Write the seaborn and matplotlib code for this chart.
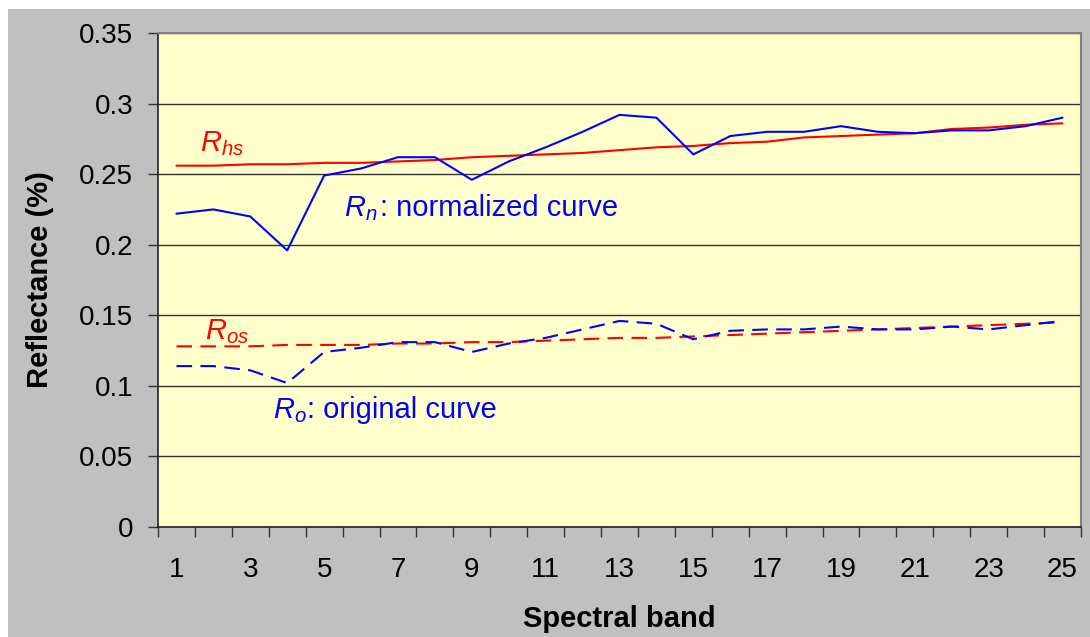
import matplotlib
matplotlib.use("Agg")
import matplotlib.pyplot as plt
from matplotlib.patches import Rectangle
from matplotlib.ticker import FixedLocator
import numpy as np
import pandas as pd
import seaborn as sns

bands = list(range(1, 26))
tick_labels = [str(b) for b in range(1, 26, 2)]
y_ticks = [0, 0.05, 0.1, 0.15, 0.2, 0.25, 0.3, 0.35]
y_tick_labels = ['0', '0.05', '0.1', '0.15', '0.2', '0.25', '0.3', '0.35']

r_hs = [0.256, 0.256, 0.257, 0.257, 0.258, 0.258, 0.259, 0.260, 0.262, 0.263,
        0.264, 0.265, 0.267, 0.269, 0.270, 0.272, 0.273, 0.276, 0.277, 0.278,
        0.279, 0.282, 0.283, 0.285, 0.286]
r_n = [0.222, 0.225, 0.220, 0.196, 0.249, 0.254, 0.262, 0.262, 0.246, 0.259,
       0.269, 0.280, 0.292, 0.290, 0.264, 0.277, 0.280, 0.280, 0.284, 0.280,
       0.279, 0.281, 0.281, 0.284, 0.290]
r_os = [0.128, 0.128, 0.128, 0.129, 0.129, 0.129, 0.130, 0.130, 0.131, 0.131,
        0.132, 0.133, 0.134, 0.134, 0.135, 0.136, 0.137, 0.138, 0.139, 0.140,
        0.141, 0.142, 0.143, 0.144, 0.145]
r_o = [0.114, 0.114, 0.111, 0.102, 0.124, 0.127, 0.131, 0.131, 0.124, 0.130,
       0.134, 0.140, 0.146, 0.144, 0.133, 0.139, 0.140, 0.140, 0.142, 0.140,
       0.140, 0.142, 0.140, 0.143, 0.146]

sns.set_theme(style="white")
plt.rcParams['font.family'] = ['Liberation Sans', 'DejaVu Sans']
plt.rcParams['mathtext.fontset'] = 'custom'
plt.rcParams['mathtext.rm'] = 'Liberation Sans'
plt.rcParams['mathtext.it'] = 'Liberation Sans:italic'
plt.rcParams['text.color'] = 'black'
plt.rcParams['axes.labelcolor'] = 'black'

fig = plt.figure(figsize=(10.9, 6.37), dpi=100)
fig.patch.set_facecolor('white')
fig.patches.append(Rectangle((8 / 1090, 0), 1 - 8 / 1090, 1 - 9 / 637,
                             transform=fig.transFigure, facecolor='#C0C0C0',
                             edgecolor='none', zorder=-10))
ax = fig.add_axes([158 / 1090, 1 - 527 / 637, (1081 - 158) / 1090, (527 - 33) / 637])
ax.set_facecolor('#FFFFCC')

df = pd.DataFrame({'band': bands, 'Rhs': r_hs, 'Rn': r_n, 'Ros': r_os, 'Ro': r_o})
lw = 1.5
sns.lineplot(data=df, x='band', y='Rhs', ax=ax, color='#FF0000', lw=lw, zorder=3)
sns.lineplot(data=df, x='band', y='Rn', ax=ax, color='#0000FF', lw=lw, zorder=4)
sns.lineplot(data=df, x='band', y='Ros', ax=ax, color='#FF0000', lw=lw, zorder=3)
ax.lines[-1].set_dashes((7.5, 4))
sns.lineplot(data=df, x='band', y='Ro', ax=ax, color='#0000FF', lw=lw, zorder=4)
ax.lines[-1].set_dashes((7.5, 4))

ax.set_xlim(0.5, 25.5)
ax.set_ylim(0, 0.35)
ax.set_yticks(y_ticks)
ax.set_yticklabels(y_tick_labels)
ax.set_xticks(list(range(1, 26, 2)))
ax.set_xticklabels(tick_labels)
ax.xaxis.set_minor_locator(FixedLocator(np.arange(0.5, 25.6, 1.0)))
ax.grid(True, axis='y', color='#333333', lw=1.0, zorder=1)
ax.grid(False, axis='x')
ax.set_axisbelow(True)

ax.tick_params(axis='x', which='major', length=0, pad=21.5, labelsize=20, labelcolor='black')
ax.tick_params(axis='x', which='minor', length=7, width=1, direction='out', color='#333333', bottom=True)
ax.tick_params(axis='y', which='major', length=7, width=1, direction='out', color='#333333',
               pad=11, labelsize=20, left=True, labelcolor='black')

for s in ['left', 'bottom']:
    ax.spines[s].set_color('#222222')
    ax.spines[s].set_linewidth(1.2)
for s in ['top', 'right']:
    ax.spines[s].set_color('#808080')
    ax.spines[s].set_linewidth(1.5)

ax.set_xlabel('Spectral band', fontsize=21, fontweight='bold', color='black')
ax.xaxis.set_label_coords(0.5, (527 - 627) / 494)
ax.xaxis.label.set_va('baseline')
ax.set_ylabel('Reflectance (%)', fontsize=21, fontweight='bold', color='black')
ax.yaxis.set_label_coords((40 - 158) / 923, 0.5)
ax.yaxis.label.set_va('center')

def bx(px):
    return (px - 158) / 36.92 + 0.5

def vy(py):
    return (527 - py) / 1411.4

fs_r = 21
fs_t = 21
ax.text(bx(200), vy(151.7), r'$R_{hs}$', color='#FF0000', fontsize=fs_r, va='baseline', ha='left')
ax.text(bx(344), vy(216), r'$R_{n}$', color='#0000FF', fontsize=fs_r, va='baseline', ha='left')
ax.text(bx(380), vy(216), ': normalized curve', color='#0000FF', fontsize=fs_t, va='baseline', ha='left')
ax.text(bx(205), vy(339.3), r'$R_{os}$', color='#FF0000', fontsize=fs_r, va='baseline', ha='left')
ax.text(bx(273), vy(418.3), r'$R_{o}$', color='#0000FF', fontsize=fs_r, va='baseline', ha='left')
ax.text(bx(307), vy(418.3), ': original curve', color='#0000FF', fontsize=fs_t, va='baseline', ha='left')

fig.savefig('out.png', dpi=100, facecolor=fig.get_facecolor())
